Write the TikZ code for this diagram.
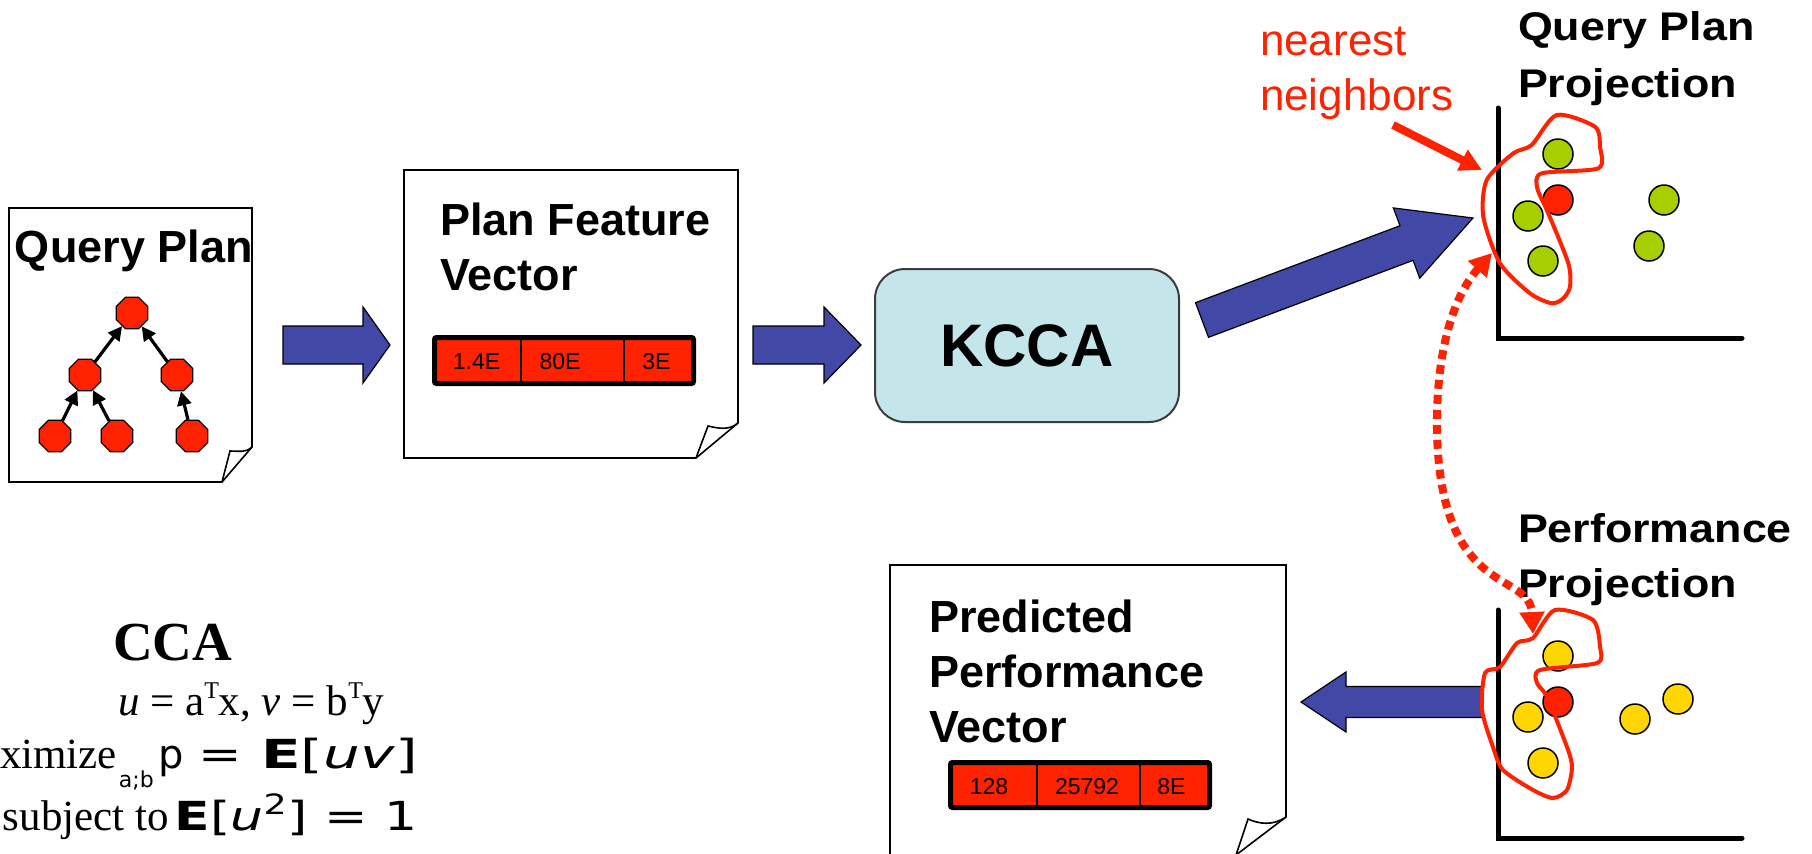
\documentclass[tikz,border=0pt]{standalone}
\usepackage{fontspec}
\usepackage{graphicx}
\setmainfont{Liberation Serif}
\setsansfont{Liberation Sans}
\newfontfamily\dejavu{DejaVu Sans}
\usetikzlibrary{shapes.geometric,arrows.meta,calc}
\definecolor{redfill}{RGB}{255,34,0}
\definecolor{bluefill}{RGB}{65,72,166}
\definecolor{kccafill}{RGB}{196,230,234}
\definecolor{kccaline}{RGB}{60,60,60}
\definecolor{greenpt}{RGB}{166,206,0}
\definecolor{yellowpt}{RGB}{255,214,0}
\newcommand\setfs[1]{\fontsize{#1}{#1}\selectfont}
\newcommand\supT{\raisebox{0.38em}{\setfs{12pt}T}}
\newcommand\blockarr[5]{%
  \coordinate (#1#2j) at ($(#2)!#5!(#1)$);
  \path[blockarrow] ($(#1)!#3!90:(#2)$) -- ($(#1#2j)!#3!90:(#2)$) -- ($(#1#2j)!#4!90:(#2)$)
    -- (#2) -- ($(#1#2j)!#4!-90:(#2)$) -- ($(#1#2j)!#3!-90:(#2)$) -- ($(#1)!#3!-90:(#2)$) -- cycle;}
\tikzset{
  txt/.style={inner sep=0pt, outer sep=0pt, anchor=base west},
  titlefont/.style={font=\sffamily\bfseries\setfs{22.5pt}},
  rtitlefont/.style={font=\sffamily\bfseries\setfs{20pt}},
  cellfont/.style={font=\sffamily\setfs{11.5pt}, inner sep=0pt, anchor=base},
  pageline/.style={draw=black, line width=0.8pt, line join=miter},
  octa/.style={regular polygon, regular polygon sides=8, minimum size=17pt, inner sep=0pt,
    fill=redfill, draw=black, line width=0.6pt},
  treeedge/.style={-{Triangle[length=7pt,width=7pt]}, line width=1.6pt},
  blockarrow/.style={fill=bluefill, draw=black, line width=0.6pt, line join=miter},
  vbar/.style={draw=black, line width=2.5pt, fill=redfill, rounded corners=1pt},
  vdiv/.style={draw=black, line width=1pt},
  kccabox/.style={rectangle, rounded corners=15pt, fill=kccafill, draw=kccaline, line width=1pt,
    minimum width=152pt, minimum height=76.5pt, font=\sffamily\bfseries\setfs{30pt}},
  axisline/.style={draw=black, line width=2.5pt, line cap=round},
  dot/.style={circle, minimum size=15pt, inner sep=0pt, draw=black, line width=0.75pt},
  lasso/.style={draw=redfill, line width=2pt, line join=round},
  ptrarrow/.style={draw=redfill, line width=4pt, -{Triangle[length=11pt,width=11pt]}},
  dotarrow/.style={draw=redfill, line width=4pt, dash pattern=on 4.5pt off 3pt,
    {Triangle[length=11pt,width=12pt]}-{Triangle[length=11pt,width=12pt]}},
  mathsans/.style={inner sep=0pt, outer sep=0pt, font=\dejavu\setfs{20pt}},
}
\begin{document}
\begin{tikzpicture}[x=0.5pt,y=-0.5pt]
\useasboundingbox (0,0) rectangle (1812,853);
\fill[white] (0,0) rectangle (1812,853);

% ---------- page 1: Query Plan
\path[pageline, fill=white] (9,208) -- (252,208) -- (252,447) -- (222,482) -- (9,482) -- cycle;
\path[pageline] (252,447) .. controls (246,453) and (237,451) .. (230,451) -- (222,482);
\node[txt, titlefont] (qp) at (15,262) {Query Plan};
\node[octa] (root) at (132,313) {};
\node[octa] (midL) at (85,375) {};
\node[octa] (midR) at (177,375) {};
\node[octa] (leafL) at (55,436) {};
\node[octa] (leafM) at (117,436) {};
\node[octa] (leafR) at (192,436) {};
\draw[treeedge] (midL) -- (root);
\draw[treeedge] (midR) -- (root);
\draw[treeedge] (leafL) -- (midL);
\draw[treeedge] (leafM) -- (midL);
\draw[treeedge] (leafR) -- (midR);

% ---------- page 2: Plan Feature Vector
\path[pageline, fill=white] (404,170) -- (738,170) -- (738,423) -- (696,458) -- (404,458) -- cycle;
\path[pageline] (738,423) .. controls (729,431) and (717,428) .. (708,426) -- (696,458);
\node[txt, titlefont] (pf1) at (440,235) {Plan Feature};
\node[txt, titlefont] (pf2) at (440,290) {Vector};
\path[vbar] (434.5,337.5) rectangle (693.5,383.5);
\draw[vdiv] (521,339) -- (521,382);
\draw[vdiv] (624,339) -- (624,382);
\node[cellfont] (c11) at (476.5,369) {1.4E};
\node[cellfont] (c12) at (560,369) {80E};
\node[cellfont] (c13) at (656.5,369) {3E};

% ---------- page 3: Predicted Performance Vector
\path[pageline, fill=white] (890,565) -- (1286,565) -- (1286,817) -- (1236,855) -- (890,855) -- cycle;
\path[pageline] (1286,817) .. controls (1273,826) and (1259,824) .. (1248,819) -- (1236,855);
\node[txt, titlefont] (pp1) at (929,632) {Predicted};
\node[txt, titlefont] (pp2) at (929,687) {Performance};
\node[txt, titlefont] (pp3) at (929,742) {Vector};
\path[vbar] (950.5,762.5) rectangle (1209.5,807.5);
\draw[vdiv] (1037,764) -- (1037,806);
\draw[vdiv] (1140,764) -- (1140,806);
\node[cellfont] (c21) at (989,794) {128};
\node[cellfont] (c22) at (1087,794) {25792};
\node[cellfont] (c23) at (1171.5,794) {8E};

% ---------- KCCA
\node[kccabox] (kcca) at (1027,345.5) {KCCA};

% ---------- block arrows
\coordinate (a1s) at (283,345); \coordinate (a1e) at (390,345);
\blockarr{a1s}{a1e}{9.5pt}{19pt}{13.5pt}
\coordinate (a2s) at (753,345); \coordinate (a2e) at (861,345);
\blockarr{a2s}{a2e}{9.5pt}{19pt}{18.5pt}
\coordinate (a3s) at (1202,320); \coordinate (a3e) at (1473,218);
\blockarr{a3s}{a3e}{9.25pt}{18.75pt}{35.5pt}
\coordinate (a4s) at (1483,702); \coordinate (a4e) at (1301,702);
\blockarr{a4s}{a4e}{7.75pt}{15pt}{22.5pt}

% ---------- Query Plan Projection
\node[txt, rtitlefont] (qpp1) at (1518,40) {\scalebox{1.12}[1]{Query Plan}};
\node[txt, rtitlefont] (qpp2) at (1518,97) {\scalebox{1.12}[1]{Projection}};
\draw[axisline] (1498,108) -- (1498,338) -- (1742,338);
\node[dot, fill=greenpt] (g1) at (1558,154) {};
\node[dot, fill=redfill] (r1) at (1558,200) {};
\node[dot, fill=greenpt] (g2) at (1528,216) {};
\node[dot, fill=greenpt] (g3) at (1543,261) {};
\node[dot, fill=greenpt] (g4) at (1664,200) {};
\node[dot, fill=greenpt] (g5) at (1649,246) {};
\draw[lasso] plot[smooth cycle, tension=0.45] coordinates {
  (1486.7,180) (1513.3,153.3) (1531.7,145) (1556.7,115) (1595,126.7) (1600,146.7)
  (1598.3,168.3) (1541.7,173.3) (1537.3,188.3) (1548.3,213.3) (1568.3,263.3) (1570,286.7)
  (1563.3,298.3) (1551.7,303.3) (1530,293.3) (1500,263.3) (1483.3,216.7)};

% ---------- nearest neighbors
\node[txt, font=\sffamily\setfs{22pt}, text=redfill] (nn1) at (1260,55) {nearest};
\node[txt, font=\sffamily\setfs{22pt}, text=redfill] (nn2) at (1260,110) {neighbors};
\coordinate (nnp1) at (1393,125); \coordinate (nnp2) at (1482,170);
\draw[ptrarrow] (nnp1) -- (nnp2);

% ---------- Performance Projection
\node[txt, rtitlefont] (perf1) at (1518,542) {\scalebox{1.12}[1]{Performance}};
\node[txt, rtitlefont] (perf2) at (1518,597) {\scalebox{1.12}[1]{Projection}};
\draw[axisline] (1498,610) -- (1498,838) -- (1742,838);
\node[dot, fill=yellowpt] (y1) at (1558,656) {};
\node[dot, fill=redfill] (r2) at (1558,702) {};
\node[dot, fill=yellowpt] (y2) at (1528,717) {};
\node[dot, fill=yellowpt] (y3) at (1543,763) {};
\node[dot, fill=yellowpt] (y4) at (1635,719) {};
\node[dot, fill=yellowpt] (y5) at (1678,699) {};
\draw[lasso] plot[smooth cycle, tension=0.45] coordinates {
  (1485,673) (1500,667) (1517,643) (1533,638) (1555,610) (1593,620) (1600,647) (1597,663)
  (1540,670) (1537,683) (1547,697) (1567,747) (1572,767) (1567,790) (1553,798) (1533,790)
  (1503,770) (1493,747) (1482,710)};

% ---------- dotted correspondence arrow
\coordinate (nnTop) at (1492,253); \coordinate (nnBot) at (1533,634);
\draw[dotarrow] (nnTop) .. controls (1450,300) and (1436,360) .. (1437,430)
  .. controls (1440,600) and (1530,570) .. (nnBot);

% ---------- CCA
\node[txt, font=\rmfamily\bfseries\setfs{27.5pt}] (cca) at (113,660) {CCA};
\node[txt, font=\rmfamily\setfs{21.5pt}] (ccaeq) at (118,715) {\textit{u} = a\supT x, \textit{v} = b\supT y};
\node[txt, font=\rmfamily\setfs{21.5pt}] (maxw) at (0,768) {ximize};
\node[txt, font=\dejavu\setfs{11pt}] (maxsub) at (119,787) {a;b};
\node[mathsans, anchor=base west] (maxp) at (158,768) {p};
\node[mathsans, anchor=base west] (maxeq) at (198,768) {\scalebox{1.3}[1]{=}};
\node[mathsans, anchor=base east] (maxobj) at (418,768) {\scalebox{1.45}[1]{\textbf{E}[\textit{uv}]}};
\node[txt, font=\rmfamily\setfs{21.5pt}] (subj) at (3,830) {subject to};
\node[mathsans, anchor=base east] (subjc) at (418,830) {\scalebox{1.3}[1]{\textbf{E}[\textit{u}\textsuperscript{\upshape 2}] = 1}};
\end{tikzpicture}
\end{document}
